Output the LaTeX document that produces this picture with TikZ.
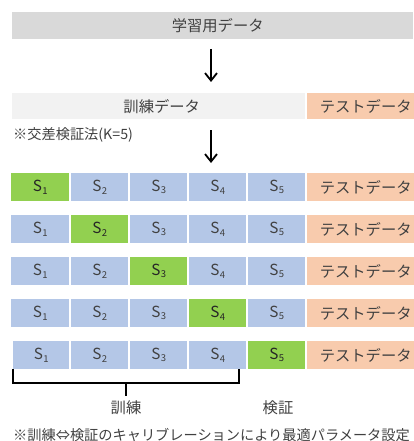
\documentclass[tikz,border=0pt]{standalone}
\usepackage{fontspec}
\setmainfont{Noto Sans CJK JP}
\usetikzlibrary{arrows.meta}
\definecolor{cgray}{HTML}{D9D9D9}
\definecolor{clight}{HTML}{F2F2F2}
\definecolor{cgreen}{HTML}{92D050}
\definecolor{cblue}{HTML}{B4C7E7}
\definecolor{cpeach}{HTML}{F8CBAD}
\definecolor{ctext}{HTML}{404040}
\newcommand{\Sk}[1]{S\kern0.3pt\raisebox{-2.2pt}{\fontsize{9.5}{10}\selectfont #1}}
\begin{document}
\begin{tikzpicture}[x=1pt,y=-1pt,
  box/.style={inner sep=0pt,anchor=north west,text=ctext,font=\fontsize{15.3}{16}\selectfont},
  blk/.style={box,fill=cblue},
  grn/.style={box,fill=cgreen,text=black!85},
  tst/.style={box,fill=cpeach},
  lbl/.style={inner sep=0pt,text=ctext,font=\fontsize{15.3}{16}\selectfont},
  note/.style={inner sep=0pt,anchor=west,text=ctext,font=\fontsize{14.2}{15}\selectfont},
  bigarrow/.style={line width=2pt,-{Straight Barb[length=7.5pt,width=12pt,line width=1.8pt]}}]
\useasboundingbox (0,0) rectangle (414,441);
% top
\node[box,fill=cgray,minimum width=401pt,minimum height=27pt] (all) at (12,12) {\hspace*{10pt}学習用データ};
\coordinate (a1s) at (211,49);
\coordinate (a1e) at (211,82);
\draw[bigarrow] (a1s) -- (a1e);
\node[box,fill=clight,minimum width=293pt,minimum height=26pt] (train) at (12,93) {\hspace*{6pt}訓練データ};
\node[tst,minimum width=107pt,minimum height=26pt] (test0) at (307,93) {\hspace*{10pt}テストデータ};
\node[note] (kf) at (13,135) {※交差検証法(K=5)};
\coordinate (a2s) at (211,130);
\coordinate (a2e) at (211,163);
\draw[bigarrow] (a2s) -- (a2e);
% rows
\foreach \r/\y/\g/\x in {1/173/1/11, 2/215/2/11, 3/257/3/11, 4/299/4/11, 5/341/5/13}{
  \foreach \c/\cx in {1/\x, 2/71, 3/130, 4/189, 5/248}{
    \pgfmathsetmacro{\ww}{\c==1 ? 69-\x : 57}
    \ifnum\c=\g
      \node[grn,minimum width=\ww pt,minimum height=28pt] (s\r\c) at (\cx,\y) {\Sk{\c}};
    \else
      \node[blk,minimum width=\ww pt,minimum height=28pt] (s\r\c) at (\cx,\y) {\Sk{\c}};
    \fi
  }
  \node[tst,minimum width=107pt,minimum height=28pt] (t\r) at (307,\y) {\hspace*{10pt}テストデータ};
}
% bracket
\coordinate (bl) at (13,369);
\coordinate (br) at (239,369);
\coordinate (bm) at (126,383);
\draw[line width=1.4pt] (bl) |- (bm) -| (br);
\coordinate (bt) at (126,396);
\draw[line width=1.4pt] (bm) -- (bt);
\node[lbl] (trl) at (126,408) {訓練};
\node[lbl] (val) at (278,408) {検証};
\node[note] (bn) at (13,435) {※訓練⇔検証のキャリブレーションにより最適パラメータ設定};
\end{tikzpicture}
\end{document}
